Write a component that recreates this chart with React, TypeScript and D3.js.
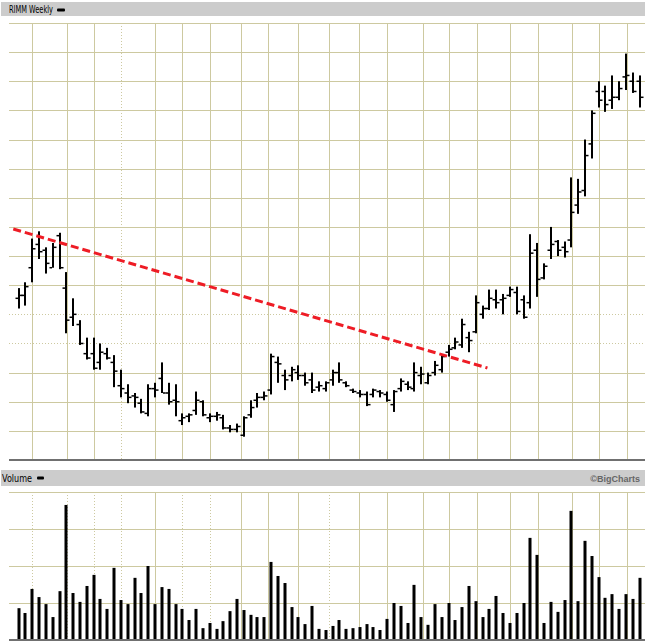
import React from 'react';
import * as d3 from 'd3';

// Weekly OHLC (price units, gridline every 2)
const highs = [21.8,22.2,25.2,25.7,24.6,24.9,25.6,22.9,21.1,19.6, 18.4,18.4,18.0,17.7,17.2,16.2,15.2,14.6,14.2,15.2, 15.3,16.7,15.3,15.2,13.2,13.2,14.7,14.1,13.2,13.3, 13.1,12.4,12.5,13.0,14.1,14.6,14.7,17.3,17.1,16.2, 16.4,16.5,16.0,16.0,15.4,15.4,16.2,16.7,15.4,14.9, 14.8,14.7,14.9,14.8,14.7,14.8,15.6,15.4,16.7,16.4, 16.0,16.8,17.2,17.9,18.4,19.7,18.8,21.3,20.6,21.7, 21.7,21.4,21.9,21.9,21.3,25.5,24.9,23.5,26.0,25.1, 25.0,29.4,29.3,32.0,34.0,36.0,35.7,36.4,36.0,37.9, 36.6,36.4];
const lows = [20.4,20.6,22.2,23.8,22.8,23.2,23.1,18.7,19.2,17.9, 16.9,16.2,16.2,16.9,15.0,14.3,13.9,13.6,13.2,13.0, 14.3,14.6,13.8,13.0,12.4,12.6,13.1,13.0,12.6,12.7, 12.1,11.9,11.9,11.6,12.9,13.6,14.1,14.5,15.3,14.8, 15.4,15.5,15.1,14.6,14.7,14.7,15.1,15.3,15.0,14.6, 14.3,13.7,14.3,14.3,14.0,13.3,14.7,14.8,14.7,15.2, 15.2,15.8,16.0,17.1,17.6,17.7,17.4,18.7,19.7,20.3, 20.4,20.0,21.2,20.0,19.7,20.4,21.2,22.4,23.8,24.0, 23.9,24.6,26.9,28.1,30.7,34.2,33.9,34.1,34.7,35.4, 35.2,34.2];
const opens = [21.1,21.3,23.2,24.8,24.4,23.2,25.4,21.8,19.8,19.3, 17.3,17.3,16.7,17.3,16.7,15.1,14.6,14.4,13.9,13.2, 14.9,15.6,14.6,14.1,12.7,13.0,13.4,14.0,12.9,13.0, 12.9,12.2,12.1,11.7,13.1,14.1,14.3,14.8,16.7,15.8, 15.8,16.0,15.8,15.5,15.0,14.9,15.5,16.0,15.3,14.8, 14.6,14.5,14.5,14.7,14.5,13.8,14.9,15.2,14.9,15.8, 15.3,16.0,16.2,17.4,17.7,17.9,18.4,18.8,20.0,20.4, 21.0,21.0,21.3,21.5,21.0,20.8,24.4,22.5,24.4,25.0, 24.6,25.1,27.5,28.5,31.7,35.3,35.3,34.7,34.9,36.3, 36.0,36.0];
const closes = [21.3,21.9,24.5,24.3,23.5,24.6,23.2,19.6,20.0,18.0, 17.0,16.3,17.4,17.0,16.1,14.9,14.3,14.3,13.3,14.9, 14.8,14.6,14.0,14.0,12.9,13.1,14.1,13.1,13.0,13.1, 12.2,12.1,12.3,12.9,13.6,14.3,14.4,17.1,16.6,15.5, 16.2,15.8,15.3,14.8,15.1,15.3,16.0,15.5,15.1,14.7, 14.5,13.8,14.8,14.6,14.1,14.7,15.4,15.0,16.0,15.9, 15.8,16.5,17.1,17.6,18.1,19.3,18.2,20.8,20.4,21.1, 20.8,21.1,21.7,20.2,19.8,24.2,22.4,23.3,24.8,24.4, 24.3,27.0,28.4,30.9,33.8,34.7,34.4,34.9,35.5,36.4, 35.3,34.9];
// Weekly volume (millions)
const volumes = [8.6,7.3,13.8,11.6,9.7,6.2,13.2,36.5,12.7,10.3, 14.6,17.6,11.1,8.4,19.5,10.8,9.7,16.8,12.7,20.0, 9.7,14.3,13.8,9.7,8.4,5.4,8.4,3.2,4.6,3.0, 5.1,7.8,11.1,8.1,6.8,6.2,6.2,21.1,17.3,15.4, 8.9,6.2,4.3,9.2,3.0,2.7,3.8,5.4,3.0,3.2, 3.5,4.3,3.5,2.7,5.7,10.0,9.2,4.6,14.9,6.2, 4.1,9.7,6.2,10.0,5.4,8.9,14.6,10.5,6.2,8.4, 11.9,7.3,4.6,7.3,10.0,27.6,23.0,4.6,10.3,7.6, 10.8,34.9,10.5,26.8,22.7,17.0,11.4,12.4,8.4,12.4, 11.1,16.8];
// Month boundaries (in week index units)
const monthLines = [2, 7.1, 11, 15, 20, 24, 28.1, 32.6, 36.6, 41, 45.5, 49.9, 54, 59.2, 63.1, 67.1, 72, 76.1, 81.1, 85.1, 89.1];
const priceDotted = [15];
const volumeDotted = [2, 7.1, 11, 15, 24, 28.1, 45.5];
const priceTicks = [12, 14, 16, 18, 20, 22, 24, 26, 28, 30, 32, 34, 36, 38, 40];
const priceDottedTicks = [18, 20];
const volumeTicks = [10, 20, 30, 40];
// Trendline (week index, price)
const trendIdx = [-0.78, 68.7];
const trendPrice = [25.86, 16.32];

const GRID = '#cdc9a0';
const HEADER = '#cccccc';

export default function App() {
  const W = 645, H = 641;
  const x = d3.scaleLinear().domain([0, 91]).range([18.6, 639.6]);
  const y = d3.scaleLinear().domain([10, 40]).range([460, 23]);
  const yv = d3.scaleLinear().domain([0, 40]).range([640, 492]);
  const left = 9, right = 645;
  const trendLine = d3.line<number>().x((d) => x(trendIdx[d])).y((d) => y(trendPrice[d]));

  return (
    <svg width={W} height={H} style={{ position: 'absolute', left: 0, top: 0, background: '#fff' }}
      fontFamily="'DejaVu Sans', sans-serif">
      {/* price header */}
      <rect x={1} y={2} width={W - 1} height={14} fill={HEADER} />
      <text x={9} y={13} fontSize={10} fill="#000" textLength={44} lengthAdjust="spacingAndGlyphs">RIMM Weekly</text>
      <rect x={57} y={8.5} width={8} height={3} rx={1} fill="#000" />

      {/* price grid */}
      {priceTicks.map((t) => (
        <line key={'ph' + t} x1={left} x2={right} y1={Math.round(y(t)) + 0.5} y2={Math.round(y(t)) + 0.5}
          stroke={GRID} strokeWidth={1} strokeDasharray={priceDottedTicks.includes(t) ? '1,2' : undefined} />
      ))}
      {monthLines.map((m) => (
        <line key={'pv' + m} x1={Math.round(x(m)) + 0.5} x2={Math.round(x(m)) + 0.5} y1={y(40)} y2={y(10)}
          stroke={GRID} strokeWidth={1} strokeDasharray={priceDotted.includes(m) ? '1,2' : undefined} />
      ))}
      <line x1={left} x2={right} y1={y(10)} y2={y(10)} stroke="#707070" strokeWidth={2} />

      {/* OHLC bars */}
      {highs.map((h, i) => {
        const X = Math.round(x(i));
        return (
          <g key={'b' + i} fill="#000">
            <rect x={X - 1} y={y(h)} width={2} height={y(lows[i]) - y(h)} />
            <rect x={X - 3.5} y={y(opens[i]) - 0.75} width={2.5} height={1.5} />
            <rect x={X + 1} y={y(closes[i]) - 0.75} width={2.5} height={1.5} />
          </g>
        );
      })}

      {/* trendline */}
      <path d={trendLine([0, 1]) || ''} fill="none" stroke="#ee1c25" strokeWidth={3} strokeDasharray="8,4" />

      {/* volume header */}
      <rect x={1} y={470} width={W - 1} height={16} fill={HEADER} />
      <text x={2} y={482} fontSize={10} fill="#000" textLength={30} lengthAdjust="spacingAndGlyphs">Volume</text>
      <rect x={37} y={476.5} width={7} height={3} rx={1} fill="#000" />
      <text x={640} y={482} fontSize={9} fontWeight="bold" fill="#666" textAnchor="end"
        fontFamily="'Liberation Sans Narrow', 'Liberation Sans', sans-serif">©BigCharts</text>

      {/* volume grid */}
      {volumeTicks.map((t) => (
        <line key={'vh' + t} x1={left} x2={right} y1={Math.round(yv(t)) + 0.5} y2={Math.round(yv(t)) + 0.5}
          stroke={GRID} strokeWidth={1} />
      ))}
      {monthLines.map((m) => (
        <line key={'vv' + m} x1={Math.round(x(m)) + 0.5} x2={Math.round(x(m)) + 0.5} y1={yv(40)} y2={yv(0)}
          stroke={GRID} strokeWidth={1} strokeDasharray={volumeDotted.includes(m) ? '1,2' : undefined} />
      ))}
      {volumes.map((v, i) => {
        const X = Math.round(x(i));
        return <rect key={'v' + i} x={X - 1.5} y={yv(v)} width={3} height={yv(0) - yv(v)} fill="#000" />;
      })}
      <line x1={left} x2={right} y1={yv(0)} y2={yv(0)} stroke="#707070" strokeWidth={2} />
    </svg>
  );
}
